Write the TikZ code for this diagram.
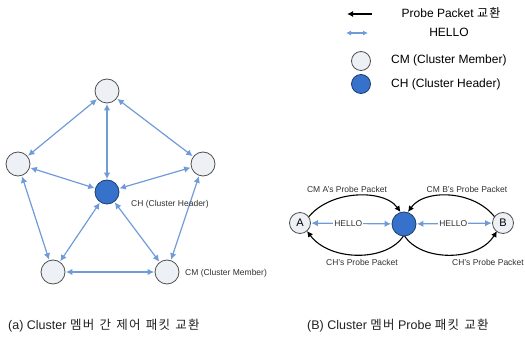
\documentclass[tikz,border=0pt]{standalone}
\usepackage{fontspec}
\setmainfont{Liberation Sans}
\newfontfamily\kr[WordSpace=1.3,LetterSpace=10]{Noto Sans CJK KR}
\usetikzlibrary{arrows.meta}
\definecolor{cmfill}{HTML}{EDF0F5}
\definecolor{cmline}{HTML}{505050}
\definecolor{chfill}{HTML}{3672CC}
\definecolor{chline}{HTML}{1E3C6E}
\definecolor{hello}{HTML}{6F9BD8}
\definecolor{lbl}{HTML}{303030}
\definecolor{captxt}{HTML}{202020}
\tikzset{
  cm/.style={circle,draw=cmline,line width=0.8pt,fill=cmfill,minimum size=#1,inner sep=0pt},
  cm/.default=24pt,
  chnode/.style={circle,draw=chline,line width=0.8pt,fill=chfill,minimum size=#1,inner sep=0pt},
  chnode/.default=24pt,
  hellolink/.style={draw=hello,line width=1.2pt,{Latex[length=6.5pt,width=6.5pt]}-{Latex[length=6.5pt,width=6.5pt]},shorten <=0.5pt,shorten >=0.5pt},
  probe/.style={draw=black,line width=1.1pt,-{Latex[length=6pt,width=6pt]}},
  small/.style={font=\fontsize{8.5}{10}\selectfont,text=lbl,inner sep=1pt},
  legend/.style={font=\fontsize{12}{14}\selectfont,text=black,inner sep=0pt},
  caption/.style={font=\fontsize{12.5}{14}\selectfont,text=captxt,inner sep=0pt,anchor=west}
}
\begin{document}
\begin{tikzpicture}[x=1pt,y=-1pt]
\useasboundingbox (0,0) rectangle (525,339);

% (a) cluster of five members around the header
\node[cm] (t)  at (107,91)  {};
\node[cm] (l)  at (18,164)  {};
\node[cm] (r)  at (203,164) {};
\node[cm] (bl) at (53,272)  {};
\node[cm] (br) at (167,272) {};
\node[chnode] (ch) at (107,192) {};

\foreach \u/\v in {t/l,t/r,l/bl,r/br,bl/br,t/ch,l/ch,r/ch,bl/ch,br/ch}
  \draw[hellolink] (\u) -- (\v);

\node[small,anchor=west] (chlbl) at (130,204) {CH (Cluster Header)};
\node[small,anchor=west] (cmlbl) at (184,273) {CM (Cluster Member)};

% (B) probe packet exchange between members A, B and the header
\draw[probe] (300,223) ++(90:10.5) .. controls (312,190) and (382,186) .. (400.5,212);
\draw[probe] (503,223) ++(90:10.5) .. controls (491,190) and (426,186) .. (408,212);
\draw[probe] (404,235) .. controls (388,262) and (330,262) .. (307,231);
\draw[probe] (404,235) .. controls (420,262) and (478,262) .. (497,231);

\node[cm=21pt] (a) at (300,223) {\fontsize{11}{12}\selectfont A};
\node[chnode=24pt] (h) at (404,224) {};
\node[cm=21pt] (b) at (503,223) {\fontsize{11}{12}\selectfont B};

\draw[hellolink] (a) -- (h) node[midway,small,fill=white,inner sep=1pt,xshift=-3pt] (hl1) {HELLO};
\draw[hellolink] (h) -- (b) node[midway,small,fill=white,inner sep=1pt,xshift=-1pt] (hl2) {HELLO};

\node[small] (pa) at (347,189) {CM A’s Probe Packet};
\node[small] (pb) at (467,189) {CM B’s Probe Packet};
\node[small] (pc) at (362,262) {CH’s Probe Packet};
\node[small] (pd) at (488,262) {CH’s Probe Packet};

% legend
\coordinate (k1a) at (372,14);
\coordinate (k1b) at (347,14);
\draw[probe,line width=1.6pt] (k1a) -- (k1b);
\node[legend] (k1t) at (451,13) {Probe Packet {\kr 교환}};
\coordinate (k2a) at (346,33);
\coordinate (k2b) at (368,33);
\draw[draw=hello,line width=1.3pt,{Latex[length=5pt,width=5pt]}-{Latex[length=5pt,width=5pt]}] (k2a) -- (k2b);
\node[legend] (k2t) at (449,32) {HELLO};
\node[cm=19pt] (k3) at (361,61) {};
\node[legend,anchor=west] (k3t) at (391,60) {CM (Cluster Member)};
\node[chnode=19pt] (k4) at (361,84) {};
\node[legend,anchor=west] (k4t) at (391,84) {CH (Cluster Header)};

% captions
\node[caption] (capa) at (8,326) {(a) Cluster {\kr 멤버 간 제어 패킷 교환}};
\node[caption] (capb) at (307,326) {(B) Cluster {\kr 멤버} Probe {\kr 패킷 교환}};
\end{tikzpicture}
\end{document}
